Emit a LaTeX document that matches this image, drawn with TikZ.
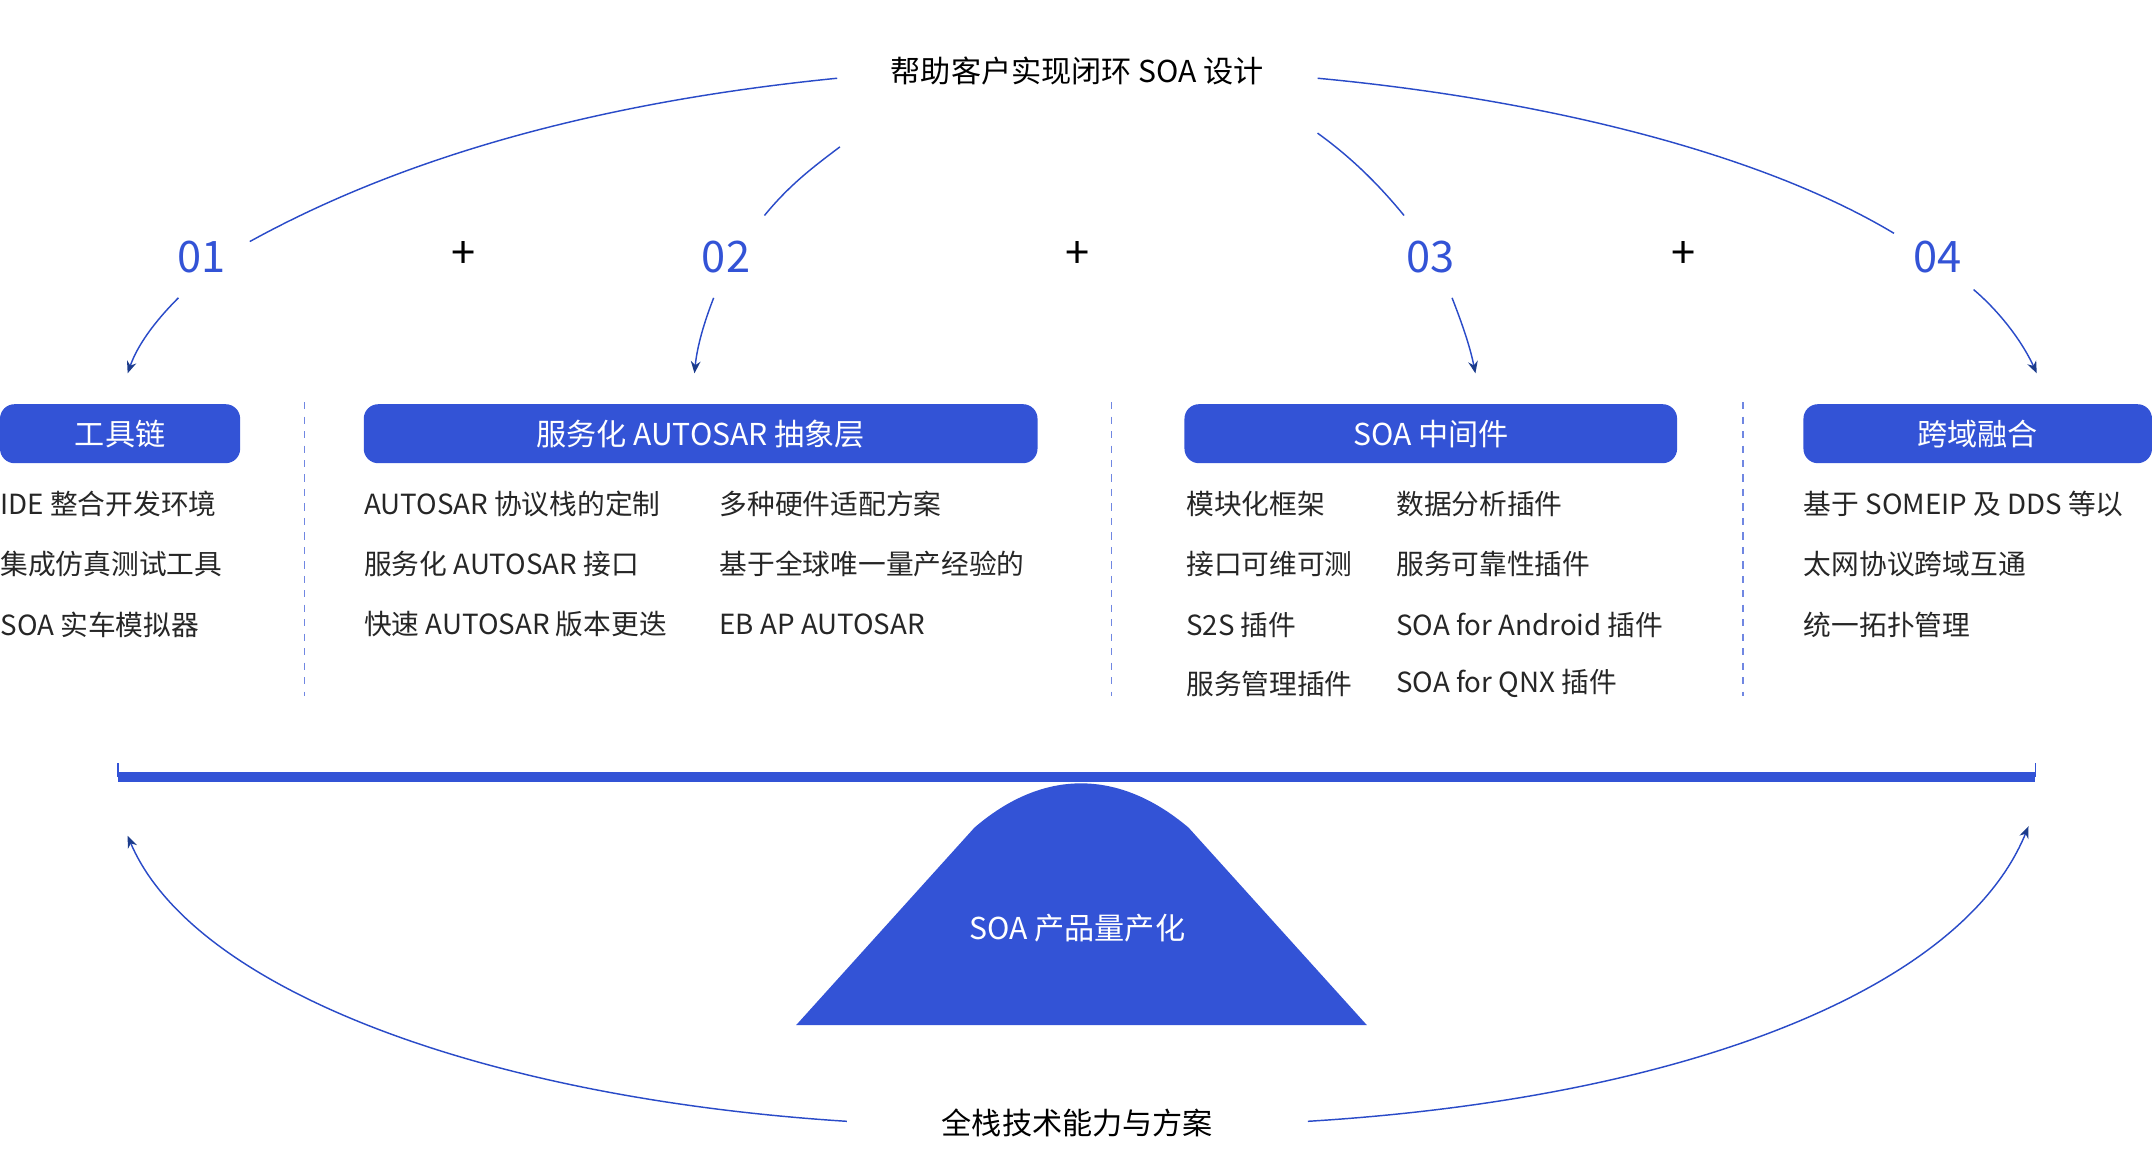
\documentclass[tikz,border=0pt]{standalone}
\usepackage{fontspec}
\setmainfont{Noto Sans CJK SC}
\usetikzlibrary{arrows.meta,positioning}
\definecolor{soablue}{HTML}{3353D6}
\definecolor{linkblue}{HTML}{2A4BC8}
\definecolor{tipblue}{HTML}{1C3C8C}
\begin{document}
\begin{tikzpicture}[x=0.02cm, y=-0.02cm, >={Stealth[length=5pt,width=4pt]},
    header/.style={fill=soablue, rounded corners=6pt, text=white, font=\fontsize{12.5}{14}\selectfont, inner sep=0pt},
    item/.style={anchor=west, inner sep=0pt, text=black!85, font=\fontsize{11.5}{13}\selectfont},
    num/.style={text=soablue, font=\fontsize{18}{20}\selectfont},
    plus/.style={font=\fontsize{18}{20}\selectfont},
    link/.style={draw=linkblue, line width=0.6pt},
    pointer/.style={draw=linkblue, line width=0.6pt, -{Stealth[length=5pt,width=4pt,color=tipblue]}},
    divider/.style={draw=soablue!70, dashed, line width=0.6pt}]
    \useasboundingbox (0,0) rectangle (1568,856);
    % Titles
    \node[font=\fontsize{12.5}{14}\selectfont] (goal) at (785,52) {帮助客户实现闭环 SOA 设计};
    \node[font=\fontsize{12.5}{14}\selectfont] (base) at (785,818) {全栈技术能力与方案};
    % Step numbers
    \node[num] (n1) at (147,187) {01};
    \node[num] (n2) at (529,187) {02};
    \node[num] (n3) at (1042,187) {03};
    \node[num] (n4) at (1412,187) {04};
    \node[plus] (p1) at (338,186) {+};
    \node[plus] (p2) at (785,186) {+};
    \node[plus] (p3) at (1227,186) {+};
    % Header boxes
    \node[header, minimum width=3.5cm, minimum height=0.86cm] (tools) at (87.5,316) {工具链};
    \node[header, minimum width=9.82cm, minimum height=0.86cm] (autosar) at (510.5,316) {服务化 AUTOSAR 抽象层};
    \node[header, minimum width=7.18cm, minimum height=0.86cm] (mid) at (1042.5,316) {SOA 中间件};
    \node[header, minimum width=5.08cm, minimum height=0.86cm] (cross) at (1441,316) {跨域融合};
    % Item lists
    \node[item] (t1) at (0,367) {IDE 整合开发环境};
    \node[item] (t2) at (0,411) {集成仿真测试工具};
    \node[item] (t3) at (0,455) {SOA 实车模拟器};
    \node[item] (a1) at (265,367) {AUTOSAR 协议栈的定制};
    \node[item] (a2) at (265,411) {服务化 AUTOSAR 接口};
    \node[item] (a3) at (265,455) {快速 AUTOSAR 版本更迭};
    \node[item] (a4) at (524,367) {多种硬件适配方案};
    \node[item] (a5) at (524,411) {基于全球唯一量产经验的};
    \node[item] (a6) at (524,455) {EB AP AUTOSAR};
    \node[item] (m1) at (864,367) {模块化框架};
    \node[item] (m2) at (864,411) {接口可维可测};
    \node[item] (m3) at (864,455) {S2S 插件};
    \node[item] (m4) at (864,498) {服务管理插件};
    \node[item] (m5) at (1017,367) {数据分析插件};
    \node[item] (m6) at (1017,411) {服务可靠性插件};
    \node[item] (m7) at (1017,455) {SOA for Android 插件};
    \node[item] (m8) at (1017,498) {SOA for QNX 插件};
    \node[item] (c1) at (1314,367) {基于 SOMEIP 及 DDS 等以};
    \node[item] (c2) at (1314,411) {太网协议跨域互通};
    \node[item] (c3) at (1314,455) {统一拓扑管理};
    % Dividers
    \foreach \x in {222,810,1270}
        \draw[divider] (\x,293) -- (\x,507);
    % Balance beam and product shape
    \coordinate (beamL) at (86,566);
    \coordinate (beamR) at (1483,566);
    \draw[soablue, line width=4pt] (beamL) -- (beamR);
    \draw[soablue, line width=0.6pt] (86,556) -- (beamL) (1483,556) -- (beamR);
    \fill[soablue] (580,747) -- (710,603) .. controls (760,560) and (815,560) .. (866,603) -- (996,747) -- cycle;
    \node[text=white, font=\fontsize{12.5}{14}\selectfont] (product) at (785,676) {SOA 产品量产化};
    % Top arcs
    \coordinate (g1) at (610,57);
    \coordinate (g2) at (960,57);
    \coordinate (g3) at (612,107);
    \coordinate (g4) at (960,97);
    \draw[link] (182,176) .. controls (320,100) and (480,70) .. (g1);
    \draw[link] (g2) .. controls (1120,72) and (1280,110) .. (1380,170);
    \draw[link] (557,157) .. controls (575,135) and (592,122) .. (g3);
    \draw[link] (1023,157) .. controls (1005,135) and (985,115) .. (g4);
    % Pointers to headers
    \draw[pointer] (130,217) .. controls (112,235) and (100,252) .. (93,272);
    \draw[pointer] (520,217) .. controls (513,235) and (508,252) .. (506,272);
    \draw[pointer] (1058,217) .. controls (1065,235) and (1071,252) .. (1075,272);
    \draw[pointer] (1438,211) .. controls (1458,228) and (1474,250) .. (1484,272);
    % Bottom arcs
    \coordinate (b1) at (617,817);
    \coordinate (b2) at (953,817);
    \draw[pointer] (b1) .. controls (350,800) and (140,720) .. (93,609);
    \draw[pointer] (b2) .. controls (1230,800) and (1430,720) .. (1478,602);
\end{tikzpicture}
\end{document}
